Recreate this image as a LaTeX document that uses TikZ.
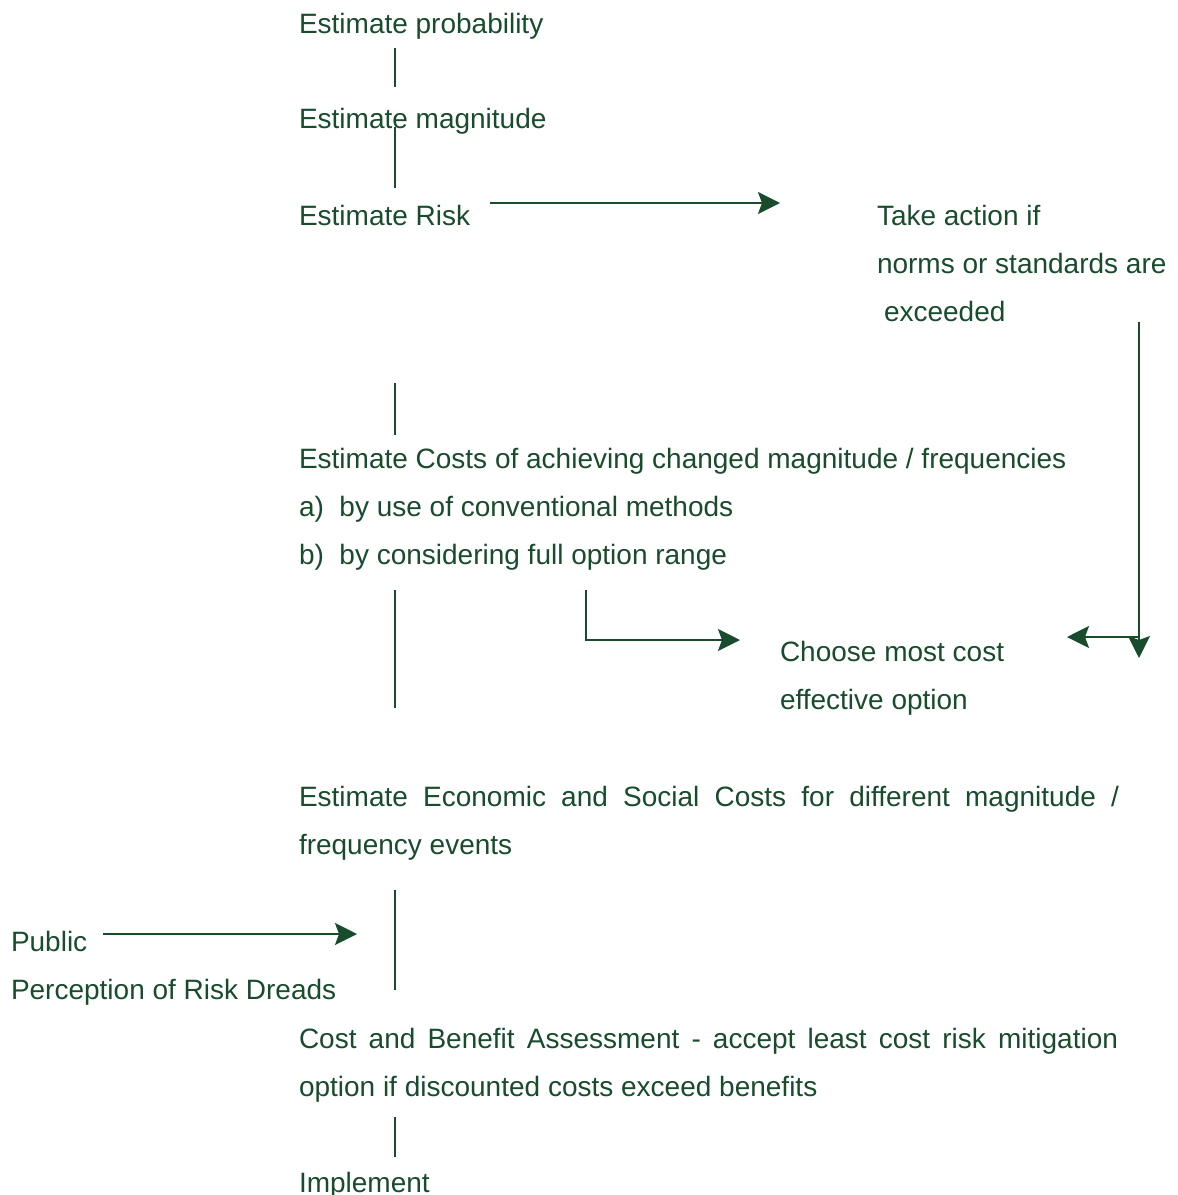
\documentclass[tikz,border=0pt]{standalone}
\usepackage{fontspec}
\setmainfont{Liberation Sans}
\usetikzlibrary{arrows.meta}
\definecolor{leafgreen}{RGB}{24,76,44}

\begin{document}
\begin{tikzpicture}[x=0.5pt,y=-0.5pt,>={Stealth[length=11pt,width=11pt,inset=2pt]},
 line width=1pt,every node/.style={font=\fontsize{14}{24}\selectfont,text=leafgreen},
 txt/.style={anchor=base west,inner sep=0pt,align=left},
 link/.style={draw=leafgreen}]
\useasboundingbox(0,0)rectangle(1178,1195);
% steps down the left column (multi-line nodes sit on their last line)
\node[txt](prob)at(298,33){Estimate probability};
\node[txt](mag)at(298,128){Estimate magnitude};
\node[txt](risk)at(298,225){Estimate Risk};
\node[txt](act)at(876,321){Take action if\\norms or standards are\\\hspace{3.5pt}exceeded};
\node[txt](costs)at(298,564){Estimate Costs of achieving changed magnitude / frequencies\\
 a)\ \ by use of conventional methods\\b)\ \ by considering full option range};
\node[txt](choose)at(779,709){Choose most cost\\effective option};
\node[txt](econ)at(298,854){\makebox[410pt][s]{Estimate Economic and Social Costs for different magnitude /}\\
 frequency events};
\node[txt](pub)at(10,999){Public\\Perception of Risk Dreads};
\node[txt](cba)at(298,1096){\makebox[409.5pt][s]{Cost and Benefit Assessment - accept least cost risk mitigation}\\
 option if discounted costs exceed benefits};
\node[txt](impl)at(298,1192){Implement};
% line ends
\coordinate(p1)at(395,48);\coordinate(m1)at(395,87);
\coordinate(m2)at(395,127);\coordinate(r1)at(395,188);
\coordinate(r2)at(490,203);\coordinate(a1)at(780,203);
\coordinate(a2)at(1139,322);\coordinate(a3)at(1139,658);
\coordinate(a4)at(1139,637);\coordinate(ch1)at(1067,637);
\coordinate(r3)at(395,383);\coordinate(c1)at(395,435);
\coordinate(c2)at(395,590);\coordinate(e1)at(395,708);
\coordinate(b1)at(586,590);\coordinate(ch2)at(740,640);
\coordinate(e2)at(395,890);\coordinate(k1)at(395,990);
\coordinate(u1)at(103,934);\coordinate(k2)at(357,934);
\coordinate(k3)at(395,1117);\coordinate(i1)at(395,1157);
\draw[link](p1)--(m1);\draw[link](m2)--(r1);
\draw[link,->](r2)--(a1);
\draw[link,->](a2)--(a3);\draw[link,->](a4)--(ch1);
\draw[link](r3)--(c1);\draw[link](c2)--(e1);
\draw[link,->](b1)|-(ch2);
\draw[link](e2)--(k1);\draw[link,->](u1)--(k2);
\draw[link](k3)--(i1);
\end{tikzpicture}
\end{document}
